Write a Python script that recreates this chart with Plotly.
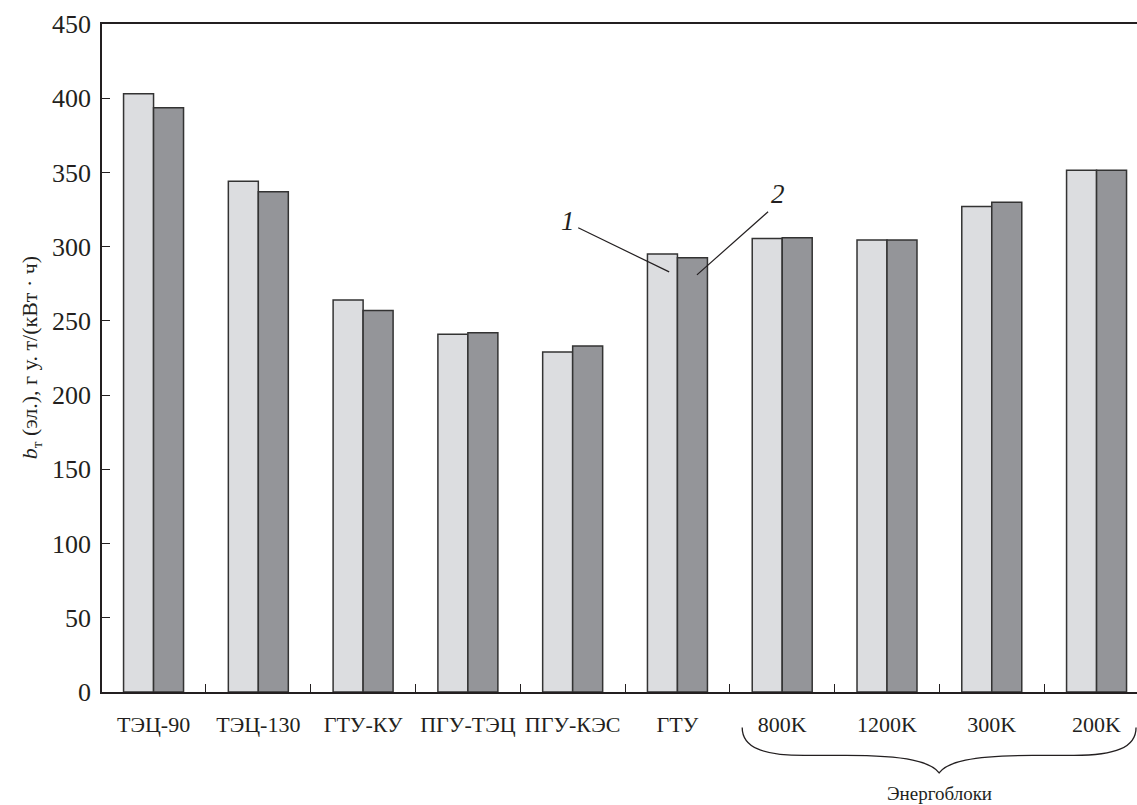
import plotly.graph_objects as go

# Specific fuel consumption for electricity by plant type
categories = ["ТЭЦ-90", "ТЭЦ-130", "ГТУ-КУ", "ПГУ-ТЭЦ", "ПГУ-КЭС", "ГТУ",
              "800K", "1200K", "300K", "200K"]
series_1 = [403, 344, 264, 241, 229, 295, 305.5, 304.5, 327, 351.5]
series_2 = [393.5, 337, 257, 242, 233, 292.5, 306, 304.5, 330, 351.5]
y_ticks = [0, 50, 100, 150, 200, 250, 300, 350, 400, 450]
group_label = "Энергоблоки"
y_title = "<i>b</i><sub>т</sub> (эл.), г у. т/(кВт · ч)"

INK = "#231f20"
FONT = "Liberation Serif"
X_RANGE = [-0.492, 9.386]

x_idx = list(range(len(categories)))


def px(v):
    """Map an x data value to paper fraction."""
    return (v - X_RANGE[0]) / (X_RANGE[1] - X_RANGE[0])


fig = go.Figure()
fig.add_trace(go.Bar(x=x_idx, y=series_1, name="1",
                     marker=dict(color="#dcdde0", line=dict(color="#333333", width=1.5))))
fig.add_trace(go.Bar(x=x_idx, y=series_2, name="2",
                     marker=dict(color="#949599", line=dict(color="#333333", width=1.5))))

# leader lines for series numbers
gtu = categories.index("ГТУ")
fig.add_shape(type="line", xref="x", yref="y",
              x0=gtu - 0.947, y0=312.7, x1=gtu - 0.079, y1=283,
              line=dict(color=INK, width=1.2))
fig.add_shape(type="line", xref="x", yref="y",
              x0=gtu + 0.865, y0=323.5, x1=gtu + 0.186, y1=281,
              line=dict(color=INK, width=1.2))
fig.add_annotation(x=gtu - 1.043, y=317.5, xref="x", yref="y", text="<i>1</i>",
                   showarrow=False, font=dict(family=FONT, size=27, color=INK))
fig.add_annotation(x=gtu + 0.96, y=335.7, xref="x", yref="y", text="<i>2</i>",
                   showarrow=False, font=dict(family=FONT, size=27, color=INK))

# curly brace under the power-unit group
first = categories.index("800K")
last = categories.index("200K")
xl = px(first - 0.382)
xr = px(last + 0.377)
xm = (xl + xr) / 2
y_tip, y_mid, y_pt = -0.053, -0.095, -0.121
path = (f"M {xl},{y_tip} C {xl},{y_mid + 0.012} {xl + 0.02},{y_mid} {xl + 0.06},{y_mid} "
        f"L {xm - 0.09},{y_mid} C {xm - 0.03},{y_mid} {xm - 0.008},{y_mid - 0.01} {xm},{y_pt} "
        f"C {xm + 0.008},{y_mid - 0.01} {xm + 0.03},{y_mid} {xm + 0.09},{y_mid} "
        f"L {xr - 0.06},{y_mid} C {xr - 0.02},{y_mid} {xr},{y_mid + 0.012} {xr},{y_tip}")
fig.add_shape(type="path", xref="paper", yref="paper", path=path,
              line=dict(color=INK, width=1.3))
fig.add_annotation(x=xm, y=-0.152, xref="paper", yref="paper",
                   xanchor="center", yanchor="middle",
                   text=group_label, showarrow=False,
                   font=dict(family=FONT, size=19, color=INK))

# y-axis title
fig.add_annotation(x=-0.0683, y=0.5, xref="paper", yref="paper", text=y_title,
                   xanchor="center", yanchor="middle",
                   textangle=-90, showarrow=False,
                   font=dict(family=FONT, size=22, color=INK))

fig.update_layout(
    width=1137, height=805,
    margin=dict(l=102, r=0, t=24, b=113),
    paper_bgcolor="white", plot_bgcolor="white",
    barmode="group", bargap=0.4275, bargroupgap=0,
    showlegend=False,
    font=dict(family=FONT, color=INK),
)
fig.update_xaxes(
    range=X_RANGE, tickvals=x_idx, ticktext=categories,
    ticks="", showgrid=False, zeroline=False,
    showline=True, linecolor=INK, linewidth=1.5, mirror=True,
    tickfont=dict(family=FONT, size=22, color=INK),
    ticklabelstandoff=12,
    minor=dict(tick0=0.5, dtick=1, ticks="inside", ticklen=8,
               tickcolor=INK, tickwidth=1.2, showgrid=False),
)
fig.update_yaxes(
    range=[0, 450], tickvals=y_ticks,
    ticks="inside", ticklen=8, tickcolor=INK, tickwidth=1.2,
    showgrid=False, zeroline=False,
    showline=True, linecolor=INK, linewidth=1.5, mirror=False,
    tickfont=dict(family=FONT, size=26, color=INK),
    ticklabelstandoff=4,
)

fig.write_html("out.html")
